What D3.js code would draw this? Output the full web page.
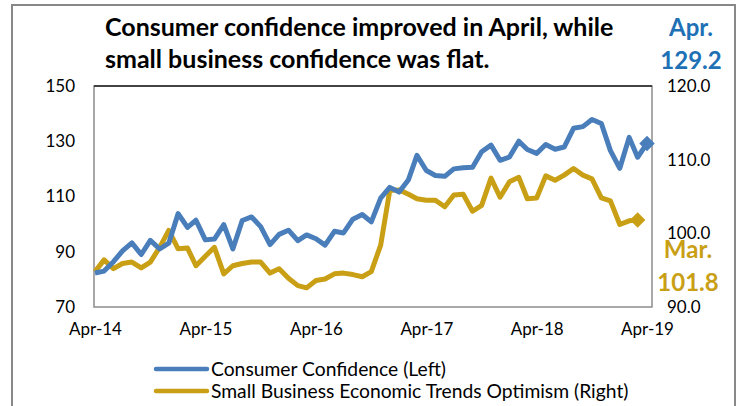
<!DOCTYPE html>
<html lang="en">
<head>
<meta charset="UTF-8"/>
<title>confidence</title>
<script src="https://d3js.org/d3.v7.min.js"></script>
<style>
  body { margin: 0; background: #fff; }
  text { font-family: Lato, "Open Sans", sans-serif; }
</style>
</head>
<body>
<div id="chart"></div>
<script>
// months Apr-14 .. Apr-19
var months = d3.range(61).map(function(i){ return new Date(2014, 3 + i, 1); });

// Conference Board consumer confidence (left axis), Apr-14 .. Apr-19
var consumer = [82.3, 83.0, 86.4, 90.3, 93.2, 89.0, 94.1, 91.0, 93.1,
  103.8, 98.8, 101.4, 94.3, 94.6, 99.8, 91.0, 101.3, 102.6, 99.1, 92.6, 96.3,
  97.8, 94.0, 96.1, 94.7, 92.4, 97.4, 96.8, 101.8, 103.5, 100.8, 109.4, 113.3,
  111.6, 116.1, 124.9, 119.4, 117.6, 117.3, 120.0, 120.4, 120.6, 126.2, 128.6, 123.1,
  124.3, 130.0, 127.0, 125.6, 128.8, 127.1, 127.9, 134.7, 135.3, 137.9, 136.4, 126.6,
  120.2, 131.4, 124.2, 129.2];

// NFIB small business optimism (right axis), Apr-14 .. Mar-19
var smallBiz = [94.8, 96.4, 95.2, 95.9, 96.1, 95.3, 96.1, 98.1, 100.4,
  97.9, 98.0, 95.6, 96.9, 98.1, 94.5, 95.6, 95.9, 96.1, 96.1, 94.6, 95.2,
  93.9, 92.9, 92.6, 93.6, 93.8, 94.5, 94.6, 94.4, 94.1, 94.8, 98.4, 105.8,
  105.9, 105.3, 104.7, 104.5, 104.5, 103.6, 105.2, 105.3, 103.0, 103.8, 107.5, 104.9,
  107.0, 107.6, 104.7, 104.8, 107.8, 107.2, 107.9, 108.8, 107.9, 107.4, 104.8, 104.4,
  101.2, 101.7, 101.8];

var leftTicks = [70, 90, 110, 130, 150];
var rightTicks = [90, 100, 110, 120];
var xTickLabels = ["Apr-14", "Apr-15", "Apr-16", "Apr-17", "Apr-18", "Apr-19"];
var seriesNames = ["Consumer Confidence (Left)", "Small Business Economic Trends Optimism (Right)"];
var colors = ["#4a7ebb", "#c9a015"];

var W = 738, H = 406;
var box = {left: 94, right: 652, top: 86, bottom: 307};

var svg = d3.select("#chart").append("svg")
    .attr("width", W)
    .attr("height", H);

// outer frame (no bottom edge)
svg.append("path")
    .attr("d", "M12,406 V5 H735 V406")
    .attr("fill", "none")
    .attr("stroke", "#888")
    .attr("stroke-width", 2);

var x = d3.scaleTime()
    .domain([months[0], months[60]])
    .range([95, 647]);
var yL = d3.scaleLinear().domain([70, 150]).range([box.bottom, box.top]);
var yR = d3.scaleLinear().domain([90, 120]).range([box.bottom, box.top]);

// plot box
svg.append("rect")
    .attr("x", box.left).attr("y", box.top)
    .attr("width", box.right - box.left).attr("height", box.bottom - box.top)
    .attr("fill", "none").attr("stroke", "#8c8c8c").attr("stroke-width", 1.5);
svg.append("line")
    .attr("x1", box.left).attr("x2", box.right)
    .attr("y1", box.top).attr("y2", box.top)
    .attr("stroke", "#222").attr("stroke-width", 1.5);

// axes (labels only)
var leftAxis = svg.append("g")
    .attr("transform", "translate(" + (box.left - 16) + ",0)")
    .call(d3.axisLeft(yL).tickValues(leftTicks).tickSize(0).tickFormat(d3.format("d")));
var rightAxis = svg.append("g")
    .attr("transform", "translate(" + (box.right + 12) + ",0)")
    .call(d3.axisRight(yR).tickValues(rightTicks).tickSize(0).tickFormat(d3.format(".1f")));
var xAxis = svg.append("g")
    .attr("transform", "translate(0," + (box.bottom + 13) + ")")
    .call(d3.axisBottom(x)
      .tickValues(xTickLabels.map(function(d, i){ return months[i * 12]; }))
      .tickSize(0)
      .tickFormat(function(d, i){ return xTickLabels[i]; }));

[leftAxis, rightAxis, xAxis].forEach(function(a){
  a.select(".domain").remove();
  a.selectAll("text")
    .style("font-family", "Lato, sans-serif")
    .style("font-size", "17px")
    .attr("fill", "#000");
});

// lines
var lineL = d3.line()
    .x(function(d, i){ return x(months[i]); })
    .y(function(d){ return yL(d); });
var lineR = d3.line()
    .x(function(d, i){ return x(months[i]); })
    .y(function(d){ return yR(d); });

svg.append("path").datum(smallBiz)
    .attr("d", lineR)
    .attr("fill", "none").attr("stroke", colors[1])
    .attr("stroke-width", 5).attr("stroke-linejoin", "round");
svg.append("path").datum(consumer)
    .attr("d", lineL)
    .attr("fill", "none").attr("stroke", colors[0])
    .attr("stroke-width", 5).attr("stroke-linejoin", "round");

// diamonds on last points
var diamond = d3.symbol().type(d3.symbolSquare).size(120);
var lastR = smallBiz.length - 1, lastL = consumer.length - 1;
svg.append("path")
    .attr("d", diamond)
    .attr("transform", "translate(" + x(months[lastR]) + "," + yR(smallBiz[lastR]) + ") rotate(45)")
    .attr("fill", colors[1]);
svg.append("path")
    .attr("d", diamond)
    .attr("transform", "translate(" + x(months[lastL]) + "," + yL(consumer[lastL]) + ") rotate(45)")
    .attr("fill", colors[0]);

// title
var title = svg.append("g")
    .attr("font-weight", "bold")
    .attr("font-size", "25px")
    .attr("fill", "#000");
title.append("text").attr("x", 105).attr("y", 36)
    .text("Consumer confidence improved in April, while");
title.append("text").attr("x", 105).attr("y", 68)
    .text("small business confidence was flat.");

// end-value call-outs
function callout(cx, cy, txt, col) {
  svg.append("text").attr("x", cx).attr("y", cy)
    .attr("text-anchor", "middle").attr("font-weight", "bold").attr("font-size", "24px")
    .attr("fill", col).text(txt);
}
callout(691, 36, "Apr.", "#2070b5");
callout(691, 69, consumer[lastL].toFixed(1), "#2070b5");
callout(688, 258, "Mar.", colors[1]);
callout(688, 291, smallBiz[lastR].toFixed(1), colors[1]);

// legend
var legend = svg.append("g");
seriesNames.forEach(function(name, i){
  var yy = 369 + i * 22;
  legend.append("line")
    .attr("x1", 156).attr("x2", 207)
    .attr("y1", yy).attr("y2", yy)
    .attr("stroke", colors[i]).attr("stroke-width", 4.5).attr("stroke-linecap", "round");
  legend.append("text")
    .attr("x", 211).attr("y", yy + 6.5)
    .attr("font-size", "19.3px").attr("fill", "#000")
    .text(name);
});
</script>
</body>
</html>
